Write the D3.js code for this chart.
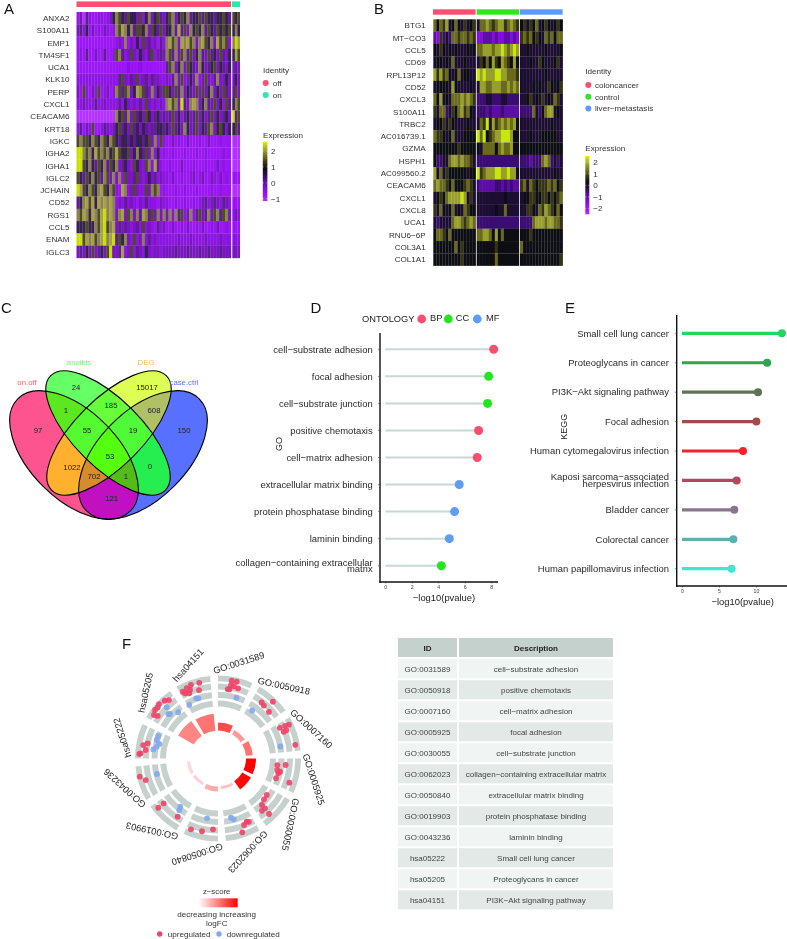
<!DOCTYPE html>
<html><head><meta charset="utf-8">
<script src="https://cdn.jsdelivr.net/npm/d3@7"></script>
<style>
html,body{margin:0;padding:0;background:#fff}
svg{display:block;filter:blur(0.3px)}
text{font-family:"Liberation Sans",Arial,sans-serif}
</style></head><body>
<svg id="c" width="787" height="939"></svg>
<script>
// ---------- DATA ----------
const heatPalette=["#b430ff","#9b12f5","#7e10d0","#5f109c","#2c0d50","#0f0e12","#3e3e12","#7a7a20","#aab030","#d6f800"];
const paletteA=["#b430ff","#9b12f5","#8a12e0","#7a14c0","#601c94","#342050","#4e4a2a","#8c8250","#a8a048","#c8e000"];
const paletteB=["#b430ff","#8410dc","#5c10a6","#3a0f72","#1d1033","#0f0e12","#343412","#6a6a1e","#98a02c","#c8e810"];

const genesA=["ANXA2","S100A11","EMP1","TM4SF1","UCA1","KLK10","PERP","CXCL1","CEACAM6","KRT18","IGKC","IGHA2","IGHA1","IGLC2","JCHAIN","CD52","RGS1","CCL5","ENAM","IGLC3"];
const levelsA=[
"1304211221235765465536257356435673565745564655455654|656",
"3425131213212768757466573654635574846375657465465656|575",
"1111111111111232713252634231427867387867378657386762|798",
"1214113114112674236325324623437647367463574364536435|586",
"1111111111111111121112111111114673573654375345635435|343",
"2222222222222246324362342433223247362353723632473353|353",
"3162132612312764673587643725366536473543636357353643|463",
"2232224223222242532324263232327867394378735743635264|576",
"0000000000000756473645365345343463524534635346353453|946",
"2413261124323564536453543445545364537534635467356535|564",
"6766576576576545545455456372621131211311121131112111|000",
"9976758676756865563575463725121121112111211211111211|000",
"9965754657465734532653267284211211131112111211131211|000",
"6546575647637372633463235342322131121123123113213121|111",
"9865765786576218723632263767121112112111211112112111|000",
"4578685878787232423213242221322112112112123423432432|111",
"7687587689787378367374874637373727462372463473674673|232",
"5556557689678343432342623214231131121311213112131121|111",
"9968786789789465732623724232222222322232222322223222|222",
"3435363453693348236243253233233334333433343343334333|333"];

const genesB=["BTG1","MT\u2212CO3","CCL5","CD69","RPL13P12","CD52","CXCL3","S100A11","TRBC2","AC016739.1","GZMA","HSPH1","AC099560.2","CEACAM6","CXCL1","CXCL8","UCA1","RNU6\u22126P","COL3A1","COL1A1"];
const levelsB=[
"75768457546456|47787678867876|56465745654565",
"21634377677676|11222121122121|67675654767577",
"54654545444545|77888788987898|44544444544445",
"45545474445444|46575865876585|44454465444564",
"86867545745544|98988899887776|44444444544444",
"45555485444454|48877888778787|44445454465456",
"75845477787876|33344333443333|44564546454764",
"64773465786754|33323222322222|33337435788454",
"45564654444544|47694867878785|44444444445444",
"76654574445555|97956788999855|44454445555544",
"55555555655555|54777757877855|55555555555555",
"53344788787764|33333333333333|33323337873434",
"84746555555455|96788899889885|44444444444544",
"78776575556764|32222233232322|67476566676756",
"45657888898464|44444444454444|45566556656567",
"64754574547655|44444454474444|44665476876575",
"43444478876787|33333333333333|33337888788776",
"57765755555555|77887585755555|55565555555555",
"55555557565555|55555565555555|75555555555555",
"55555555565555|55555575555555|55555555555556"];

const identityA=["off","on"], identityB=["coloncancer","control","liver\u2212metastasis"];
const ticksExprA=[2,1,0,-1], ticksExprB=[2,1,0,-1,-2];

const vennSets=["on.off","anoikis","DEG","case.ctrl"];
const vennColors=["#ff5a66","#66ff66","#ffb84d","#5a70ff"];
// region: membership mask on.off/anoikis/DEG/case.ctrl, count, fill
const vennMasks=["1000","0100","0010","0001","1100","0110","0011","1010","1110","0111","1111","0101","1011","1101","1001"];
const vennCounts=[97,24,15017,150,1,185,608,1022,55,19,53,0,702,1,121];
const vennFills=["#fd548f","#66ff66","#ddff55","#5870ff","#5ce81e","#66ff3a","#b0c064","#ffb02e","#55fa30","#50fa38","#55ff10","#26ee50","#d68c2c","#55bb18","#c010c0"];

const goTerms=["cell\u2212substrate adhesion","focal adhesion","cell\u2212substrate junction","positive chemotaxis","cell\u2212matrix adhesion","extracellular matrix binding","protein phosphatase binding","laminin binding","collagen\u2212containing extracellular\nmatrix"];
const goValues=[8.18,7.8,7.72,7.04,6.94,5.58,5.23,4.83,4.23];
const goOntology=["BP","CC","CC","BP","BP","MF","MF","MF","CC"];
const ontologyNames=["BP","CC","MF"], ontologyColors=["#f5506e","#22e61e","#5f9cf5"];

const keggTerms=["Small cell lung cancer","Proteoglycans in cancer","PI3K\u2212Akt signaling pathway","Focal adhesion","Human cytomegalovirus infection","Kaposi sarcoma\u2212associated\nherpesvirus infection","Bladder cancer","Colorectal cancer","Human papillomavirus infection"];
const keggValues=[13.5,11.5,10.27,10.05,8.24,7.39,7.07,6.94,6.7];
const keggColors=["#1fd65f","#2aa84f","#5e7350","#a04a4a","#f9202f","#b5475f","#8a7590","#5fb0ac","#3de8d0"];

const circleIds=["GO:0031589","GO:0050918","GO:0007160","GO:0005925","GO:0030055","GO:0062023","GO:0050840","GO:0019903","GO:0043236","hsa05222","hsa05205","hsa04151"];
const circleDesc=["cell\u2212substrate adhesion","positive chemotaxis","cell\u2212matrix adhesion","focal adhesion","cell\u2212substrate junction","collagen\u2212containing extracellular matrix","extracellular matrix binding","protein phosphatase binding","laminin binding","Small cell lung cancer","Proteoglycans in cancer","PI3K\u2212Akt signaling pathway"];
const circleHeight=[8,5,7,10,10,2.6,5,3,3.5,19,18,17];
const circleZ=[.7,.4,.55,1,.97,.25,.33,.18,.15,0,.48,.55];
// points: sector angle (deg), ring value, direction
const upPoints=[[10,79],[13.7,79],[10,74.6],[12.4,74],[16,73],[9.3,70],[8,70],[37.9,71],[40.9,70],[44,79],[47.6,69],[63.6,69],[64,74.6],[64.5,78.6],[67.5,74],[67.9,71],[80,78.5],[95.5,68],[96.3,59.7],[101,60.4],[103.8,62],[108.8,61.3],[108.7,75.3],[102,63.4],[126.8,60.9],[131.6,61.5],[136.6,64],[136.7,68.5],[140,68.3],[137.4,75.4],[155.6,69.4],[154,70.4],[158.6,71.4],[161.8,77.7],[184,71],[192.4,74.5],[200.9,75.8],[214.7,70.8],[230.5,70.4],[230.5,77.4],[253.4,75.4],[256.9,80.4],[282.2,72],[280.2,76],[276.7,72.8],[273.8,77.5],[273.3,78.8],[320,76.3],[317.3,78.6],[312.7,80.3],[310.3,79],[307.6,79.5],[304.2,77.4],[305.2,73.8],[332.2,75.6],[336,76.9],[337.8,74],[333.2,73],[336.2,71.2],[339.8,78.3],[346.1,78],[344.5,71]];
const downPoints=[[17,63.6],[35.4,59],[79,63.5],[167.6,60.6],[165.5,62.8],[190.4,60.8],[218,61.2],[216.8,64.7],[255.8,63],[290.6,64],[286.8,64],[283.9,60.5],[280.9,62.4],[278,65.3],[315,72.5],[312.8,65.5],[311.8,66.7],[319.3,61],[340,64],[341.9,63.3],[331.8,60.7]];

// ---------- HELPERS ----------
const svg=d3.select("#c");
const defs=svg.append("defs");
defs.append("filter").attr("id","soft").attr("x","-2%").attr("y","-2%").attr("width","104%").attr("height","104%")
  .append("feGaussianBlur").attr("stdDeviation",0.65);
const txt=(g,x,y,s,o={})=>g.append("text").attr("x",x).attr("y",y).attr("dy","0.35em")
  .attr("text-anchor",o.a||"start").attr("font-size",o.fs||8.1).attr("fill",o.c||"#333")
  .attr("font-weight",o.w||null).attr("transform",o.r!=null?`rotate(${o.r} ${x} ${y})`:null).text(s);
const PINK="#fb4f72", MINT="#2de8a8", GREEN="#2ee81e", BLUE="#5b9bff";
// panel letters
[["A",4,13.5],["B",374,14],["C",1,312.5],["D",310.5,312.5],["E",565,312.5],["F",122,649]].forEach(([s,x,y])=>
  svg.append("text").attr("x",x).attr("y",y).attr("font-size",15).attr("fill","#111").text(s));

function heatmap(genes,rows,palette,x0s,x1s,yTop,yBot,labelX){
  const level=d3.scaleLinear().domain(d3.range(10)).range(palette);
  const y=d3.scaleBand().domain(genes).range([yTop,yBot]);
  const g=svg.append("g").attr("filter","url(#soft)");
  rows.forEach((row,ri)=>{
    row.split("|").forEach((seg,si)=>{
      const x=d3.scaleLinear().domain([0,seg.length]).range([x0s[si],x1s[si]]);
      g.selectAll(null).data(seg.split("")).enter().append("rect")
        .attr("x",(d,i)=>x(i)).attr("width",(d,i)=>x(i+1)-x(i)+0.2)
        .attr("y",y(genes[ri])).attr("height",y.bandwidth()+0.15)
        .attr("fill",d=>level(+d));
    });
  });
  genes.forEach(n=>txt(svg,labelX,y(n)+y.bandwidth()/2,n,{a:"end"}));
}
function colorbar(id,x,y0,y1,w,ticks,tickY,labelX){
  const grad=defs.append("linearGradient").attr("id",id).attr("x1",0).attr("x2",0).attr("y1",1).attr("y2",0);
  heatPalette.forEach((c,i)=>grad.append("stop").attr("offset",i/9).attr("stop-color",c));
  svg.append("rect").attr("x",x).attr("y",y0).attr("width",w).attr("height",y1-y0).attr("fill",`url(#${id})`);
  ticks.forEach(t=>{
    const yy=tickY(t);
    svg.append("line").attr("x1",x).attr("x2",x+1).attr("y1",yy).attr("y2",yy).attr("stroke","#fff").attr("stroke-width",.5);
    svg.append("line").attr("x1",x+w-1).attr("x2",x+w).attr("y1",yy).attr("y2",yy).attr("stroke","#fff").attr("stroke-width",.5);
    txt(svg,labelX,yy,t<0?"\u2212"+(-t):t);
  });
}
// ---------- A ----------
svg.append("rect").attr("x",76.5).attr("y",1.4).attr("width",154.5).attr("height",5.6).attr("fill",PINK);
svg.append("rect").attr("x",232).attr("y",1.4).attr("width",8).attr("height",5.6).attr("fill",MINT);
heatmap(genesA,levelsA,paletteA,[76.5,232.3],[231,239.8],12,258,69.5);
txt(svg,263,69.7,"Identity");
identityA.forEach((n,i)=>{
  const yy=83+i*12;
  svg.append("circle").attr("cx",265.7).attr("cy",yy).attr("r",3).attr("fill",[PINK,MINT][i]);
  txt(svg,272.7,yy,n);
});
txt(svg,263,135,"Expression");
colorbar("gA",262.8,141.7,201,4.6,ticksExprA,d3.scaleLinear().domain([-1,2]).range([198.7,151]),271);
// ---------- B ----------
[[433,475.6,PINK],[476.6,519,GREEN],[520,562.7,BLUE]].forEach(([a,b,c])=>
  svg.append("rect").attr("x",a).attr("y",9.3).attr("width",b-a).attr("height",5.4).attr("fill",c));
heatmap(genesB,levelsB,paletteB,[433.3,476.7,520],[475.7,519,562.7],19.3,265.7,425.7);
txt(svg,585.3,71,"Identity");
identityB.forEach((n,i)=>{
  const yy=85+i*11.7;
  svg.append("circle").attr("cx",588.3).attr("cy",yy).attr("r",3).attr("fill",[PINK,GREEN,BLUE][i]);
  txt(svg,595,yy,n);
});
txt(svg,585.3,148.3,"Expression");
colorbar("gB",585.3,156,214.3,4,ticksExprB,d3.scaleLinear().domain([-2,2]).range([208.3,162.3]),593.3);
// ---------- C: VENN ----------
const vennShape=[[74,455,79.5,44,45],[108,433,81,33.7,45],[109,433,81,33.7,-45],[143,455,79.5,44,-45]];
const ellPath=([cx,cy,a,b,rot])=>{
  const r=rot*Math.PI/180,dx=a*Math.cos(r),dy=a*Math.sin(r);
  return `M${cx-dx},${cy-dy}A${a},${b} ${rot} 1 1 ${cx+dx},${cy+dy}A${a},${b} ${rot} 1 1 ${cx-dx},${cy-dy}Z`;
};
vennShape.forEach((s,i)=>{
  defs.append("clipPath").attr("id","vin"+i).append("path").attr("d",ellPath(s));
  defs.append("clipPath").attr("id","vout"+i).append("path").attr("clip-rule","evenodd")
    .attr("d","M0,340H230V540H0Z"+ellPath(s));
});
const vennG=svg.append("g");
vennMasks.forEach((m,k)=>{
  let g=vennG;
  m.split("").forEach((b,i)=>{g=g.append("g").attr("clip-path",`url(#${b==="1"?"vin":"vout"}${i})`);});
  g.append("rect").attr("x",0).attr("y",340).attr("width",230).attr("height",200).attr("fill",vennFills[k]);
});
vennShape.forEach(s=>vennG.append("path").attr("d",ellPath(s)).attr("fill","none").attr("stroke","#000").attr("stroke-width",1.1));
const vennLabelPos=[[38,430],[76,387],[147,387.5],[184,430],[66,410],[111,405],[154,410],[72,467],[87,430],[133,430],[110,456],[150,466],[94,476],[126,476],[111.7,498]];
vennCounts.forEach((c,i)=>txt(svg,vennLabelPos[i][0],vennLabelPos[i][1],c,{a:"middle",fs:7.8,c:"#222"}));
[[27,382],[79,362.7],[146,362.7],[184,382]].forEach(([x,y],i)=>txt(svg,x,y,vennSets[i],{a:"middle",fs:7.8,c:vennColors[i]}));
// ---------- lollipops ----------
function lollipop(o){
  const x=d3.scaleLinear().domain(o.dom).range(o.xr);
  const y=d3.scalePoint().domain(o.terms).range(o.yr);
  const g=svg.append("g");
  const colorOf=o.color;
  g.selectAll(".seg").data(o.terms).enter().append("line")
    .attr("x1",x(0)).attr("x2",(d,i)=>x(o.vals[i])).attr("y1",d=>y(d)).attr("y2",d=>y(d))
    .attr("stroke",(d,i)=>o.line||colorOf(i)).attr("stroke-width",o.lw);
  g.selectAll(".pt").data(o.terms).enter().append("circle")
    .attr("cx",(d,i)=>x(o.vals[i])).attr("cy",d=>y(d)).attr("r",o.r).attr("fill",(d,i)=>colorOf(i));
  const ax=g.append("g").attr("transform",`translate(0,${o.axisY})`)
    .call(d3.axisBottom(x).tickValues(o.ticks).tickSize(1.5).tickPadding(1.5));
  ax.select(".domain").remove();
  ax.selectAll("line").attr("stroke","#333").attr("stroke-width",.5);
  ax.selectAll("text").attr("font-size",5.2).attr("font-family","Liberation Sans").attr("fill","#444");
  g.append("line").attr("x1",o.axisX).attr("x2",o.axisX).attr("y1",o.top).attr("y2",o.axisY+.7).attr("stroke","#111").attr("stroke-width",1.4);
  g.append("line").attr("x1",o.axisX-.7).attr("x2",o.xEnd).attr("y1",o.axisY).attr("y2",o.axisY).attr("stroke","#111").attr("stroke-width",1.4);
  o.terms.forEach(t=>{
    g.append("line").attr("x1",o.axisX-2).attr("x2",o.axisX).attr("y1",y(t)).attr("y2",y(t)).attr("stroke","#333").attr("stroke-width",.5);
    const lines=t.split("\n");
    lines.forEach((ln,li)=>txt(g,o.labelX,y(t)+(li-(lines.length-1)/2)*o.lineGap,ln,{a:"end",fs:9.45,c:"#2a2a2a"}));
  });
  txt(g,o.titleX,o.titleY,"\u2212log10(pvalue)",{a:"middle",fs:9.4,c:"#222"});
  txt(g,o.nameX,o.nameY,o.name,{a:"middle",fs:9,c:"#222",r:-90});
}
const ontColor=d3.scaleOrdinal().domain(ontologyNames).range(ontologyColors);
lollipop({terms:goTerms,vals:goValues,dom:[0,8],xr:[385.3,491.3],yr:[349.3,565.7],ticks:[0,2,4,6,8],
  color:i=>ontColor(goOntology[i]),line:"#c8d8d5",lw:2,r:4.5,axisY:582,axisX:380,top:333,xEnd:498,labelX:372.7,lineGap:6.8,
  titleX:444,titleY:598,nameX:279,nameY:444,name:"GO"});
txt(svg,362,318.5,"ONTOLOGY",{fs:9.3,c:"#222"});
[[421.7,430,"BP"],[448.3,455.7,"CC"],[477.3,486,"MF"]].forEach(([cx,tx,n])=>{
  svg.append("circle").attr("cx",cx).attr("cy",319).attr("r",4.4).attr("fill",ontColor(n));
  txt(svg,tx,318,n,{fs:9.3,c:"#222"});
});
lollipop({terms:keggTerms,vals:keggValues,dom:[0,10],xr:[682,756],yr:[333.3,568.7],ticks:[0,5,10],
  color:i=>keggColors[i],lw:3.2,r:4,axisY:586,axisX:676.7,top:315,xEnd:787,labelX:669,lineGap:7,
  titleX:742.7,titleY:602,nameX:564,nameY:426.7,name:"KEGG"});
// ---------- F: circle ----------
const CX=218,CY=758.5;
const circle=svg.append("g").attr("transform",`translate(${CX},${CY})`);
const deg=d3.scaleLinear().domain([0,360]).range([0,2*Math.PI]);
const radial=d3.scaleLinear().domain([0,83]).range([0,83]);
const ringBands=[[52,58],[60.5,66.5],[69,75],[77.2,83]];
const arc=d3.arc();
const sector=i=>[i*30,i*30+24.5];
circleIds.forEach((id,i)=>{
  const [a0,a1]=sector(i);
  ringBands.forEach(([r0,r1])=>circle.append("path")
    .attr("d",arc({innerRadius:radial(r0),outerRadius:radial(r1),startAngle:deg(a0),endAngle:deg(a1)})).attr("fill","#c6d1cd"));
  circle.append("path").attr("d",arc({innerRadius:radial(28),outerRadius:radial(28+circleHeight[i]),startAngle:deg(a0),endAngle:deg(a1)}))
    .attr("fill",d3.interpolateRgb("#ffffff","#ff0000")(circleZ[i]));
  const mid=(a0+a1)/2, rr=98, px=rr*Math.sin(deg(mid)), py=-rr*Math.cos(deg(mid));
  circle.append("text").attr("x",px).attr("y",py).attr("dy","0.35em").attr("text-anchor","middle")
    .attr("font-size",9.3).attr("fill","#222").attr("transform",`rotate(${mid-30} ${px} ${py})`).text(id);
});
const pts=(arr,c)=>circle.selectAll(null).data(arr).enter().append("circle")
  .attr("cx",d=>radial(d[1])*Math.sin(deg(d[0]))).attr("cy",d=>-radial(d[1])*Math.cos(deg(d[0])))
  .attr("r",2.9).attr("fill",c).attr("fill-opacity",.9);
pts(downPoints,"#7fa8ee"); pts(upPoints,"#ee4468");
// F legend
txt(svg,216.7,891.7,"z\u2212score",{a:"middle",fs:7.8});
const gz=defs.append("linearGradient").attr("id","gz");
gz.append("stop").attr("offset",0).attr("stop-color","#fff");
gz.append("stop").attr("offset",1).attr("stop-color","#ff0000");
svg.append("rect").attr("x",198.3).attr("y",898.3).attr("width",39.4).attr("height",9).attr("fill","url(#gz)");
txt(svg,216.7,914.3,"decreasing increasing",{a:"middle",fs:8.1});
txt(svg,216.7,922.7,"logFC",{a:"middle",fs:8.1});
svg.append("circle").attr("cx",159.7).attr("cy",934).attr("r",2.7).attr("fill","#ee4468");
txt(svg,167.7,934,"upregulated",{fs:8.1});
svg.append("circle").attr("cx",219).attr("cy",934).attr("r",2.7).attr("fill","#7fa8ee");
txt(svg,226.7,934,"downregulated",{fs:8.1});
// ---------- table ----------
const tbl=svg.append("g");
const c1=[398,457],c2=[459,613];
const rowY=d3.scaleLinear().domain([0,12]).range([659.3,911.3]);
[c1,c2].forEach((c,k)=>{
  tbl.append("rect").attr("x",c[0]).attr("y",638).attr("width",c[1]-c[0]).attr("height",19).attr("fill","#c5d1cd");
  txt(tbl,(c[0]+c[1])/2,647.7,["ID","Description"][k],{a:"middle",fs:8,w:"bold",c:"#222"});
});
circleIds.forEach((id,i)=>{
  [c1,c2].forEach((c,k)=>{
    tbl.append("rect").attr("x",c[0]).attr("y",rowY(i)).attr("width",c[1]-c[0]).attr("height",19).attr("fill",i%2?"#e2e9e7":"#f0f4f3");
    txt(tbl,(c[0]+c[1])/2,rowY(i)+9.4,[id,circleDesc[i]][k],{a:"middle",fs:8,c:"#444"});
  });
});
</script>
</body></html>
